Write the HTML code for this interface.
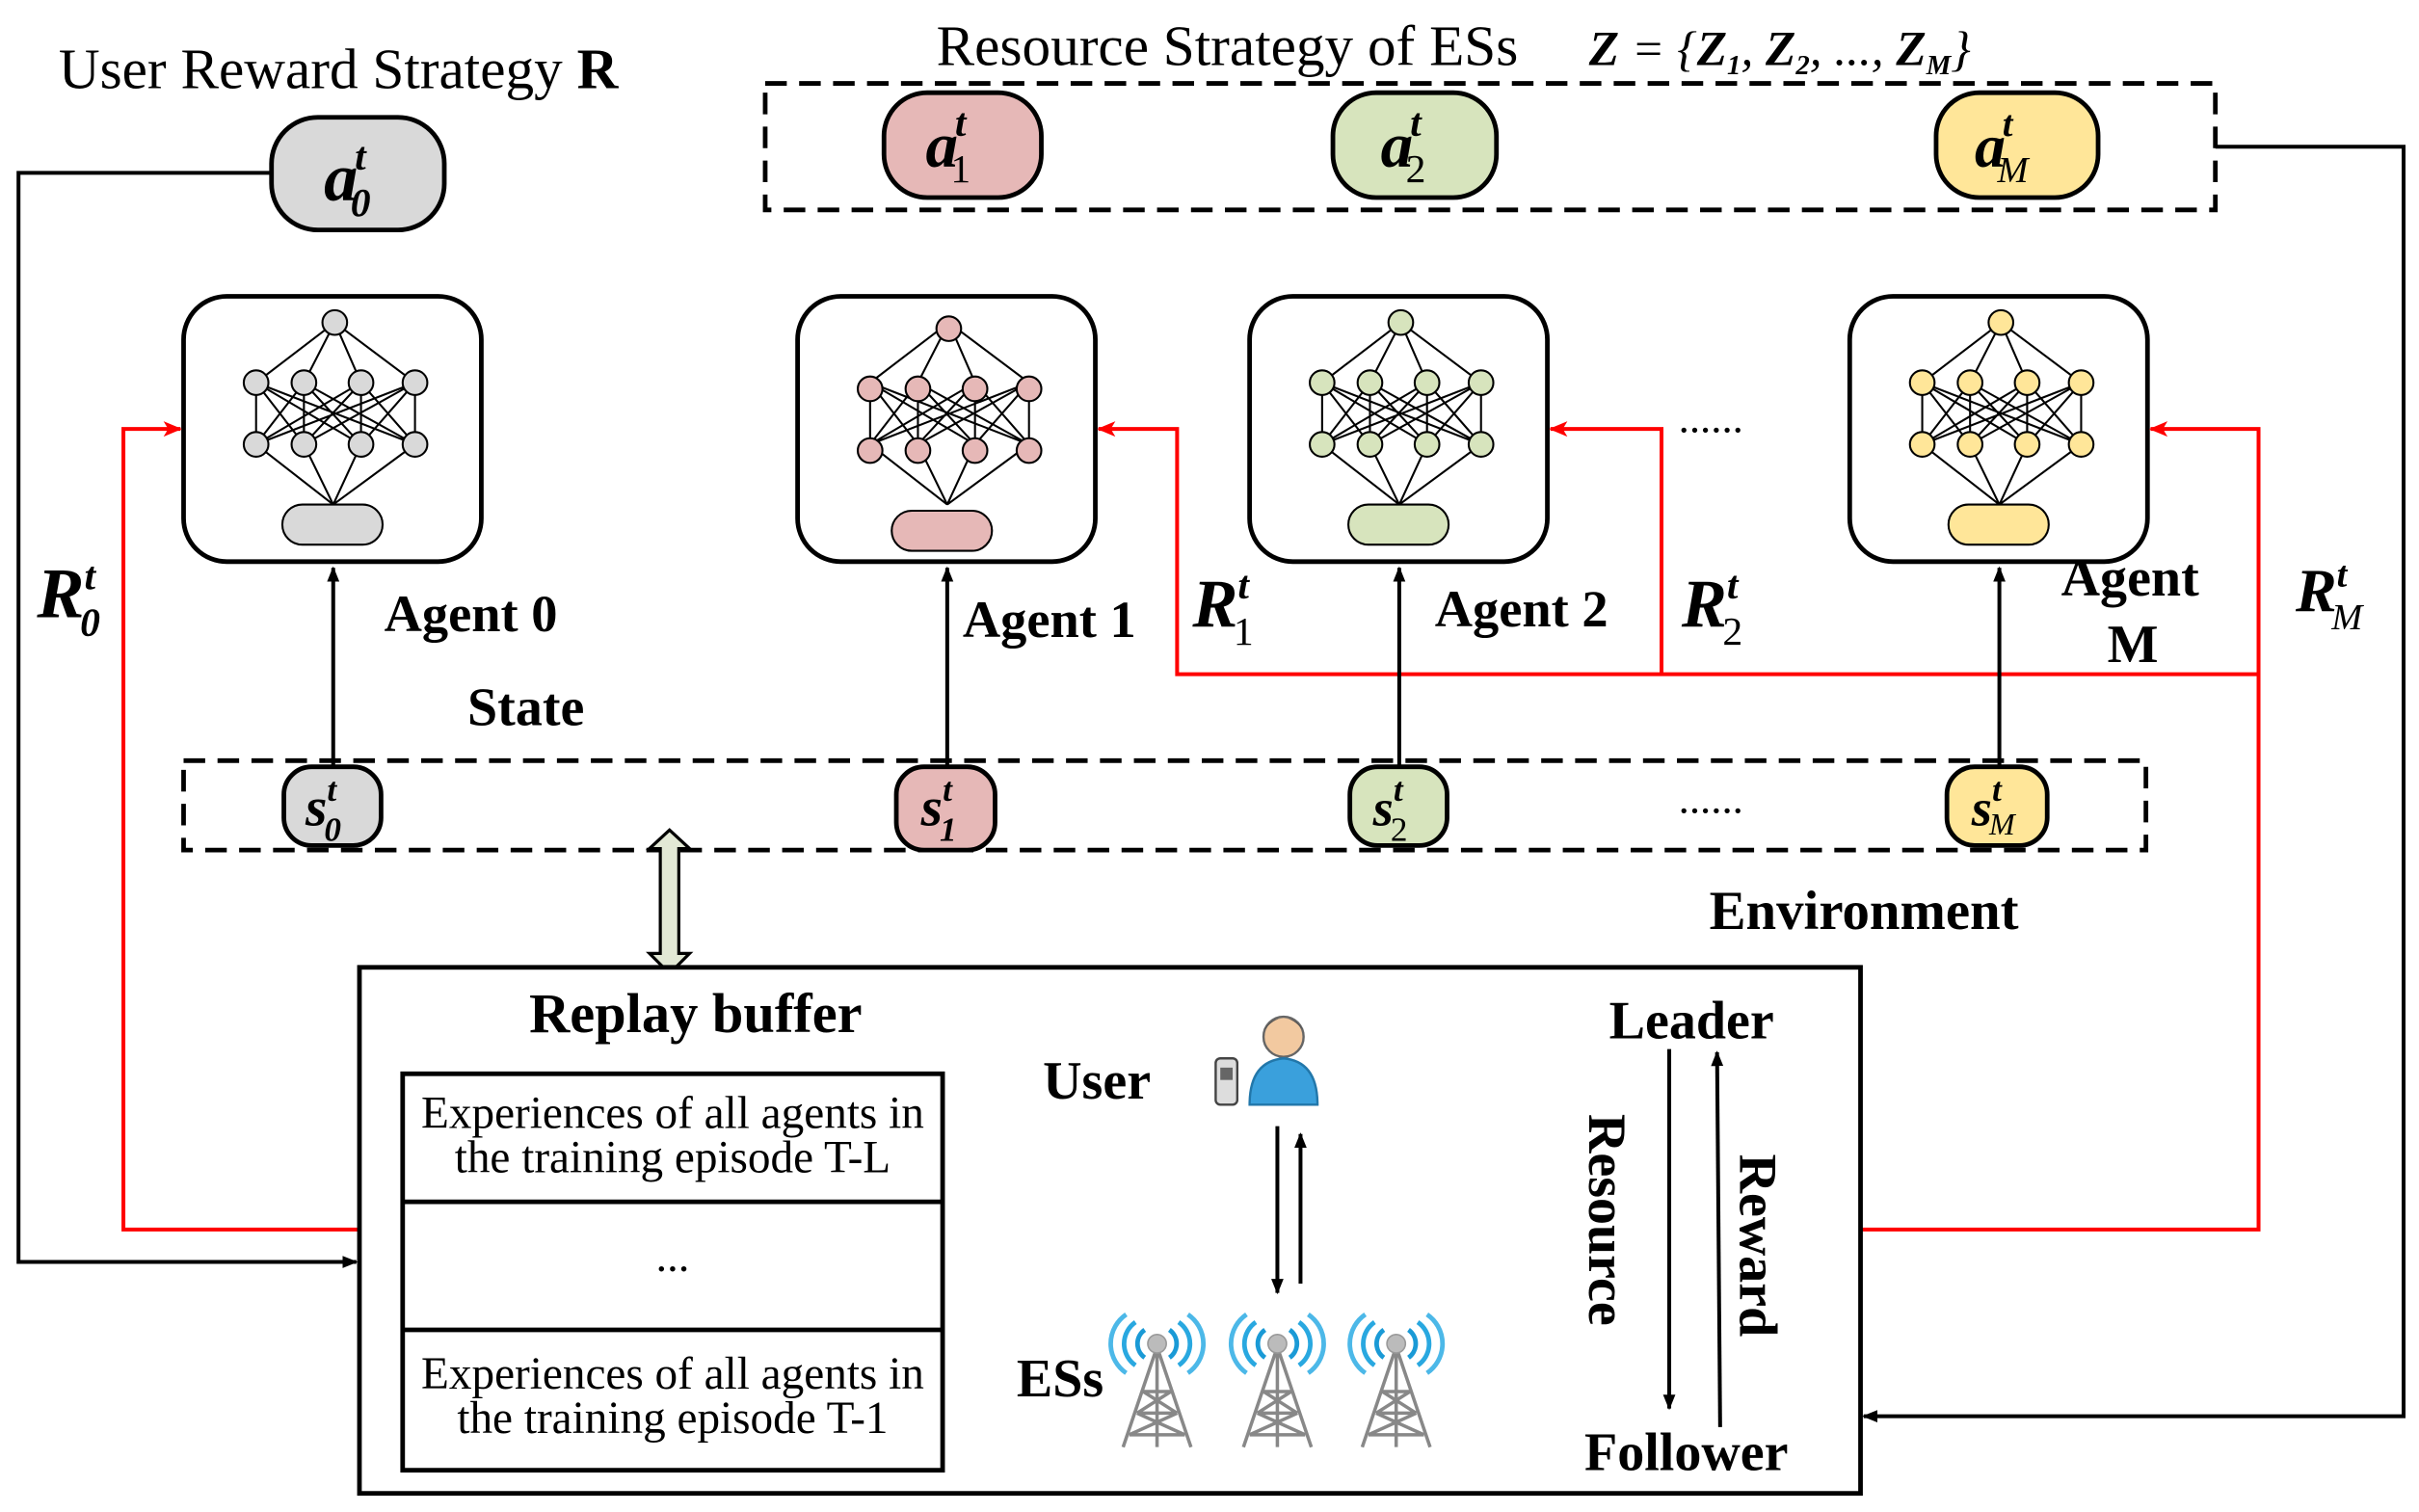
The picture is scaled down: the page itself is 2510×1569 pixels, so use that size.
<!DOCTYPE html>
<html><head><meta charset="utf-8"><style>
html,body{margin:0;padding:0;background:#fff}
svg{display:block}
text{font-family:"Liberation Serif",serif;fill:#000}
.b{font-weight:bold}
</style></head><body>
<svg width="2510" height="1569" viewBox="0 0 1568 980" xmlns="http://www.w3.org/2000/svg">
<defs>
<marker id="ak" markerWidth="10" markerHeight="10" refX="9" refY="5" orient="auto" markerUnits="userSpaceOnUse"><path d="M0,1 L10,5 L0,9 z" fill="#000"/></marker>
<marker id="ar" markerWidth="12" markerHeight="10" refX="11" refY="5" orient="auto" markerUnits="userSpaceOnUse"><path d="M0,0 L12,5 L0,10 L3,5 z" fill="#f00"/></marker>
<g id="tower">
<path d="M-8,-20 A11,11 0 0 0 -8,-2" fill="none" stroke="#1a9ad6" stroke-width="3"/>
<path d="M-14,-25 A17,17 0 0 0 -14,3" fill="none" stroke="#29a8e0" stroke-width="3"/>
<path d="M-20,-30 A23,23 0 0 0 -20,8" fill="none" stroke="#4cb8e8" stroke-width="3"/>
<path d="M8,-20 A11,11 0 0 1 8,-2" fill="none" stroke="#1a9ad6" stroke-width="3"/>
<path d="M14,-25 A17,17 0 0 1 14,3" fill="none" stroke="#29a8e0" stroke-width="3"/>
<path d="M20,-30 A23,23 0 0 1 20,8" fill="none" stroke="#4cb8e8" stroke-width="3"/>
<path d="M-1,-6 L-22,56 M1,-6 L22,56 M0,-6 L0,56 M-9,20 L9,20 M-13,34 L13,34 M-18,48 L18,48 M-9,20 L13,34 M9,20 L-13,34 M-13,34 L18,48 M13,34 L-18,48" stroke="#888" stroke-width="2.2" fill="none"/>
<circle cx="0" cy="-11" r="6" fill="#bbb" stroke="#999"/>
</g>
</defs>

<text x="38" y="57" font-size="37">User Reward Strategy <tspan class="b">R</tspan></text>
<text x="607" y="42" font-size="37">Resource Strategy of ESs</text>
<text x="1030" y="42" font-size="32" font-style="italic" font-weight="bold">Z <tspan font-weight="normal">= {</tspan>Z<tspan font-size="18" dy="6">1</tspan><tspan dy="-6" font-weight="normal">, </tspan>Z<tspan font-size="18" dy="6">2</tspan><tspan dy="-6" font-weight="normal">, ..., </tspan>Z<tspan font-size="18" dy="6">M</tspan><tspan dy="-6" font-weight="normal">}</tspan></text>

<rect x="176" y="76" width="112" height="73" rx="30" fill="#d9d9d9" stroke="#000" stroke-width="3"/>
<text x="210" y="130" font-size="44" class="b" font-style="italic">a<tspan font-size="26" dx="-2" dy="-20">t</tspan><tspan font-size="26" dx="-10" dy="30">0</tspan></text>

<rect x="496" y="54" width="940" height="82" fill="none" stroke="#000" stroke-width="3" stroke-dasharray="14,8"/>
<rect x="573" y="60" width="102" height="68" rx="28" fill="#e6b8b7" stroke="#000" stroke-width="3"/>
<text x="600" y="108" font-size="42" class="b" font-style="italic">a<tspan font-size="26" dx="-2" dy="-20">t</tspan><tspan font-size="26" font-weight="normal" font-style="normal" dx="-10" dy="30">1</tspan></text>
<rect x="864" y="60" width="106" height="68" rx="28" fill="#d7e4bd" stroke="#000" stroke-width="3"/>
<text x="895" y="108" font-size="42" class="b" font-style="italic">a<tspan font-size="26" dx="-2" dy="-20">t</tspan><tspan font-size="26" font-weight="normal" font-style="normal" dx="-10" dy="30">2</tspan></text>
<rect x="1255" y="60" width="105" height="68" rx="28" fill="#ffe699" stroke="#000" stroke-width="3"/>
<text x="1280" y="108" font-size="40" class="b" font-style="italic">a<tspan font-size="24" dx="-2" dy="-20">t</tspan><tspan font-size="24" font-weight="normal" dx="-10" dy="30">M</tspan></text>

<polyline points="176,112 12,112 12,818 231,818" fill="none" stroke="#000" stroke-width="2.5" marker-end="url(#ak)"/>
<polyline points="1436,95 1558,95 1558,918 1208,918" fill="none" stroke="#000" stroke-width="2.5" marker-end="url(#ak)"/>

<rect x="119" y="192" width="193" height="172" rx="28" fill="#fff" stroke="#000" stroke-width="3"/>
<rect x="517" y="192" width="193" height="172" rx="28" fill="#fff" stroke="#000" stroke-width="3"/>
<rect x="810" y="192" width="193" height="172" rx="28" fill="#fff" stroke="#000" stroke-width="3"/>
<rect x="1199" y="192" width="193" height="172" rx="28" fill="#fff" stroke="#000" stroke-width="3"/>

<g stroke="#000" stroke-width="1.3">
<g id="nn0" transform="translate(216,0)">
<path d="M1,209 L-50,248 M1,209 L-19,248 M1,209 L18,248 M1,209 L53,248
M-50,248 L-50,288 M-50,248 L-19,288 M-50,248 L18,288 M-50,248 L53,288
M-19,248 L-50,288 M-19,248 L-19,288 M-19,248 L18,288 M-19,248 L53,288
M18,248 L-50,288 M18,248 L-19,288 M18,248 L18,288 M18,248 L53,288
M53,248 L-50,288 M53,248 L-19,288 M53,248 L18,288 M53,248 L53,288
M-50,288 L0,327 M-19,288 L0,327 M18,288 L0,327 M53,288 L0,327" fill="none"/>
</g>
</g>
<g stroke="#000" stroke-width="1.3" fill="#d9d9d9">
<g transform="translate(216,0)"><circle cx="1" cy="209" r="8"/><circle cx="-50" cy="248" r="8"/><circle cx="-19" cy="248" r="8"/><circle cx="18" cy="248" r="8"/><circle cx="53" cy="248" r="8"/><circle cx="-50" cy="288" r="8"/><circle cx="-19" cy="288" r="8"/><circle cx="18" cy="288" r="8"/><circle cx="53" cy="288" r="8"/><rect x="-33" y="327" width="65" height="26" rx="13"/></g>
</g>
<g stroke="#000" stroke-width="1.3"><use href="#nn0" x="398"/><use href="#nn0" x="691"/><use href="#nn0" x="1080"/></g>
<g stroke="#000" stroke-width="1.3" fill="#e6b8b7">
<g transform="translate(614,0)"><circle cx="1" cy="213" r="8"/><circle cx="-50" cy="252" r="8"/><circle cx="-19" cy="252" r="8"/><circle cx="18" cy="252" r="8"/><circle cx="53" cy="252" r="8"/><circle cx="-50" cy="292" r="8"/><circle cx="-19" cy="292" r="8"/><circle cx="18" cy="292" r="8"/><circle cx="53" cy="292" r="8"/><rect x="-36" y="331" width="65" height="26" rx="13"/></g>
</g>
<g stroke="#000" stroke-width="1.3" fill="#d7e4bd">
<g transform="translate(907,0)"><circle cx="1" cy="209" r="8"/><circle cx="-50" cy="248" r="8"/><circle cx="-19" cy="248" r="8"/><circle cx="18" cy="248" r="8"/><circle cx="53" cy="248" r="8"/><circle cx="-50" cy="288" r="8"/><circle cx="-19" cy="288" r="8"/><circle cx="18" cy="288" r="8"/><circle cx="53" cy="288" r="8"/><rect x="-33" y="327" width="65" height="26" rx="13"/></g>
</g>
<g stroke="#000" stroke-width="1.3" fill="#ffe699">
<g transform="translate(1296,0)"><circle cx="1" cy="209" r="8"/><circle cx="-50" cy="248" r="8"/><circle cx="-19" cy="248" r="8"/><circle cx="18" cy="248" r="8"/><circle cx="53" cy="248" r="8"/><circle cx="-50" cy="288" r="8"/><circle cx="-19" cy="288" r="8"/><circle cx="18" cy="288" r="8"/><circle cx="53" cy="288" r="8"/><rect x="-33" y="327" width="65" height="26" rx="13"/></g>
</g>

<text x="1088" y="280" font-size="28">......</text>

<g fill="none" stroke="#f00" stroke-width="2.5">
<polyline points="233,797 80,797 80,278 117,278" marker-end="url(#ar)"/>
<polyline points="1206,797 1464,797 1464,278 1394,278" marker-end="url(#ar)"/>
<polyline points="1464,437 763,437 763,278 712,278" marker-end="url(#ar)"/>
<polyline points="1077,437 1077,278 1005,278" marker-end="url(#ar)"/>
</g>

<g stroke="#000" stroke-width="2.5">
<line x1="216" y1="497" x2="216" y2="368" marker-end="url(#ak)"/>
<line x1="614" y1="497" x2="614" y2="368" marker-end="url(#ak)"/>
<line x1="907" y1="497" x2="907" y2="368" marker-end="url(#ak)"/>
<line x1="1296" y1="497" x2="1296" y2="368" marker-end="url(#ak)"/>
</g>

<text x="249" y="409" font-size="34" class="b">Agent 0</text>
<text x="624" y="413" font-size="34" class="b">Agent 1</text>
<text x="930" y="406" font-size="34" class="b">Agent 2</text>
<text x="1336" y="386" font-size="35" class="b">Agent</text>
<text x="1366" y="429" font-size="35" class="b">M</text>
<text x="303" y="470" font-size="35" class="b">State</text>
<text x="1108" y="602" font-size="35.5" class="b">Environment</text>

<text x="24" y="400" font-size="46" class="b" font-style="italic">R<tspan font-size="26" dy="-18">t</tspan><tspan font-size="26" dx="-10" dy="30">0</tspan></text>
<text x="773" y="406" font-size="44" class="b" font-style="italic">R<tspan font-size="26" dy="-18">t</tspan><tspan font-size="26" font-weight="normal" font-style="normal" dx="-10" dy="30">1</tspan></text>
<text x="1090" y="406" font-size="44" class="b" font-style="italic">R<tspan font-size="26" dy="-18">t</tspan><tspan font-size="26" font-weight="normal" font-style="normal" dx="-10" dy="30">2</tspan></text>
<text x="1488" y="396" font-size="40" class="b" font-style="italic">R<tspan font-size="24" dy="-16">t</tspan><tspan font-size="24" font-weight="normal" dx="-10" dy="28">M</tspan></text>

<rect x="119" y="493" width="1272" height="58" fill="none" stroke="#000" stroke-width="3" stroke-dasharray="14,8"/>
<rect x="184" y="497" width="63" height="51" rx="18" fill="#d9d9d9" stroke="#000" stroke-width="3"/>
<text x="198" y="535" font-size="36" class="b" font-style="italic">s<tspan font-size="22" dy="-16">t</tspan><tspan font-size="22" dx="-8" dy="26">0</tspan></text>
<rect x="581" y="497" width="64" height="54" rx="18" fill="#e6b8b7" stroke="#000" stroke-width="3"/>
<text x="597" y="535" font-size="36" class="b" font-style="italic">s<tspan font-size="22" dy="-16">t</tspan><tspan font-size="22" dx="-8" dy="26">1</tspan></text>
<rect x="875" y="497" width="63" height="51" rx="18" fill="#d7e4bd" stroke="#000" stroke-width="3"/>
<text x="890" y="535" font-size="34" class="b" font-style="italic">s<tspan font-size="22" dy="-16">t</tspan><tspan font-size="22" font-weight="normal" font-style="normal" dx="-8" dy="26">2</tspan></text>
<rect x="1262" y="497" width="65" height="51" rx="18" fill="#ffe699" stroke="#000" stroke-width="3"/>
<text x="1278" y="535" font-size="34" class="b" font-style="italic">s<tspan font-size="22" dy="-16">t</tspan><tspan font-size="20" font-weight="normal" dx="-8" dy="22">M</tspan></text>
<text x="1088" y="527" font-size="28">......</text>

<path d="M434,538 L447,550 L440,550 L440,618 L447,618 L434,631 L421,618 L428,618 L428,550 L421,550 Z" fill="#e2e8d5" stroke="#000" stroke-width="2"/>

<rect x="233" y="627" width="973" height="341" fill="#fff" stroke="#000" stroke-width="3"/>
<text x="343" y="669" font-size="36.5" class="b">Replay buffer</text>
<rect x="261" y="696" width="350" height="257" fill="none" stroke="#000" stroke-width="3"/>
<line x1="261" y1="779" x2="611" y2="779" stroke="#000" stroke-width="3"/>
<line x1="261" y1="862" x2="611" y2="862" stroke="#000" stroke-width="3"/>
<text x="436" y="731" font-size="29.5" text-anchor="middle">Experiences of all agents in</text>
<text x="436" y="760" font-size="29.5" text-anchor="middle">the training episode T-L</text>
<text x="436" y="824" font-size="29" text-anchor="middle">...</text>
<text x="436" y="900" font-size="29.5" text-anchor="middle">Experiences of all agents in</text>
<text x="436" y="929" font-size="29.5" text-anchor="middle">the training episode T-1</text>

<text x="676" y="712" font-size="35" class="b">User</text>
<text x="659" y="905" font-size="35" class="b">ESs</text>
<g>
<circle cx="832" cy="672" r="13" fill="#f2c9a0" stroke="#666" stroke-width="1.5"/>
<path d="M819,668 Q832,652 845,668 Q840,660 832,660 Q824,660 819,668Z" fill="#444"/>
<path d="M810,716 Q810,688 832,686 Q854,688 854,716 Z" fill="#3aa0dc" stroke="#2277aa" stroke-width="1.5"/>
<rect x="788" y="686" width="14" height="30" rx="3" fill="#ddd" stroke="#444" stroke-width="1.5"/>
<rect x="791" y="692" width="8" height="8" fill="#666"/>
</g>
<line x1="828" y1="730" x2="828" y2="838" stroke="#000" stroke-width="2.5" marker-end="url(#ak)"/>
<line x1="843" y1="832" x2="843" y2="735" stroke="#000" stroke-width="2.5" marker-end="url(#ak)"/>
<use href="#tower" x="750" y="882"/>
<use href="#tower" x="828" y="882"/>
<use href="#tower" x="905" y="882"/>

<text x="1043" y="673" font-size="35" class="b">Leader</text>
<text x="1027" y="953" font-size="35" class="b">Follower</text>
<line x1="1082" y1="680" x2="1082" y2="913" stroke="#000" stroke-width="2.5" marker-end="url(#ak)"/>
<line x1="1115" y1="925" x2="1113" y2="682" stroke="#000" stroke-width="2.5" marker-end="url(#ak)"/>
<text transform="translate(1030,722) rotate(90)" font-size="35" class="b">Resource</text>
<text transform="translate(1128,748) rotate(90)" font-size="35" class="b">Reward</text>
</svg>
</body></html>
